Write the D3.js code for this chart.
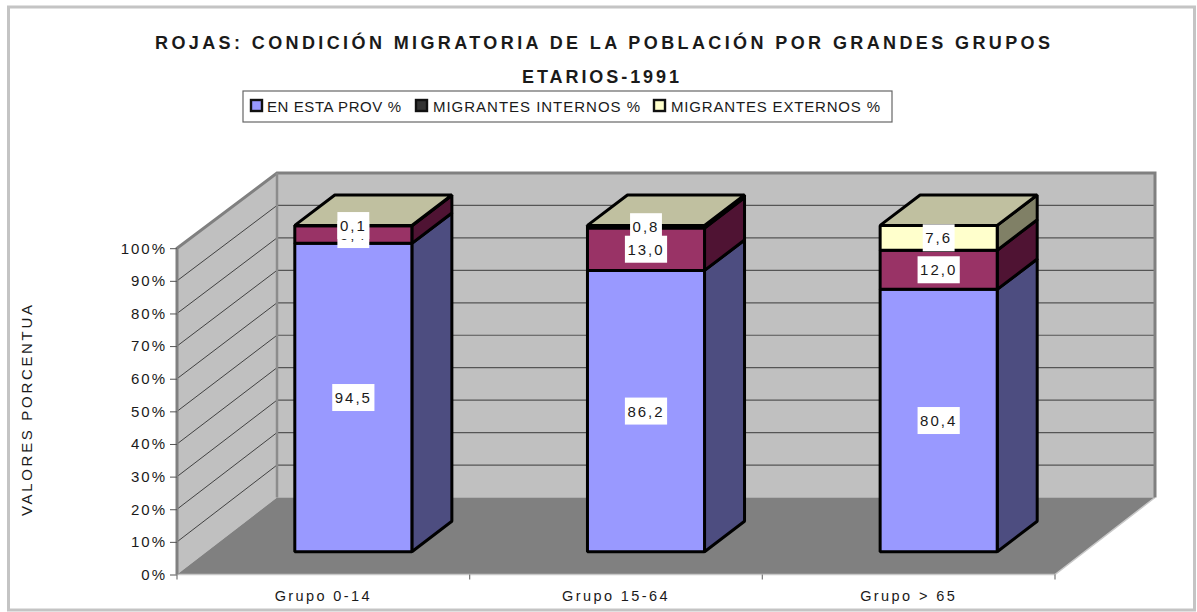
<!DOCTYPE html>
<html><head><meta charset="utf-8">
<script src="https://cdn.jsdelivr.net/npm/d3@7"></script>
<style>html,body{margin:0;padding:0;background:#fff}svg{display:block}text{font-family:"Liberation Sans",Arial,sans-serif;fill:#1a1a1a}</style>
</head><body><svg id="c" width="1197" height="612"></svg>
<script>
const categories = ["Grupo 0-14", "Grupo 15-64", "Grupo > 65"];
const enEstaProv = [94.5, 86.2, 80.4];
const migrantesInternos = [5.4, 13.0, 12.0];
const migrantesExternos = [0.1, 0.8, 7.6];
const seriesNames = ["EN ESTA PROV %", "MIGRANTES INTERNOS %", "MIGRANTES EXTERNOS %"];
const yTicks = [0, 10, 20, 30, 40, 50, 60, 70, 80, 90, 100];
const titleLines = ["ROJAS: CONDICIÓN MIGRATORIA DE LA POBLACIÓN POR GRANDES GRUPOS", "ETARIOS-1991"];
const yTitle = "VALORES PORCENTUA";

const svg = d3.select("#c");
const frontColors = ["#9999ff", "#993366", "#ffffcc"];
const sideColors = ["#4d4d80", "#4f1333", "#808066"];
const topColor = "#c0c0a0";
const legendColors = ["#9999ff", "#333333", "#ffffcc"];
const keys = ["a", "b", "c"];

const X = d3.scaleBand().domain(categories).range([177, 1055]).paddingInner(0.6).paddingOuter(0.3);
const Y = d3.scaleLinear().domain([0, 100]).range([574.5, 248.2]);
const YBack = d3.scaleLinear().domain([0, 100]).range([497.5, 173]);
const dX = d3.scaleLinear().domain([0, 1]).range([0, 100]);
const dY = d3.scaleLinear().domain([0, 1]).range([0, -76]);
const x0 = X.range()[0], x1 = X.range()[1];
const fmt = d3.formatLocale({decimal: ",", thousands: ".", grouping: [3], currency: ["", ""]}).format(".1f");
const poly = pts => pts.map(p => p.join(",")).join(" ");
const pt = (x, v, d) => [x + dX(d), Y(v) + dY(d)];

// outer frame
svg.append("rect").attr("x", 8.5).attr("y", 7).attr("width", 1186).attr("height", 603)
  .attr("fill", "#fff").attr("stroke", "#c4c4c4").attr("stroke-width", 3);

// walls
svg.append("polygon").attr("points", poly([[x0, Y(0)], [x0 + dX(1), YBack(0)], [x0 + dX(1), YBack(100)], [x0, Y(100)]]))
  .attr("fill", "#c0c0c0");
svg.append("rect").attr("x", x0 + dX(1)).attr("y", YBack(100)).attr("width", x1 - x0).attr("height", YBack(0) - YBack(100))
  .attr("fill", "#c0c0c0");
// floor
svg.append("polygon").attr("points", poly([[x0, Y(0)], [x0 + dX(1), YBack(0)], [x1 + dX(1), YBack(0)], [x1, Y(0)]]))
  .attr("fill", "#808080");
svg.append("polyline").attr("points", poly([[x0, Y(0)], [x1, Y(0)], [x1 + dX(1), YBack(0)]]))
  .attr("fill", "none").attr("stroke", "#c8c8c8").attr("stroke-width", 1.5);

// gridlines
const grid = yTicks.filter(t => t > 0 && t < 100);
svg.append("g").selectAll("line.s").data(grid).join("line")
  .attr("x1", x0).attr("y1", d => Y(d)).attr("x2", x0 + dX(1)).attr("y2", d => YBack(d))
  .attr("stroke", "#333").attr("stroke-width", 0.9);
svg.append("g").selectAll("line.b").data(grid).join("line")
  .attr("x1", x0 + dX(1)).attr("y1", d => YBack(d)).attr("x2", x1 + dX(1)).attr("y2", d => YBack(d))
  .attr("stroke", "#555").attr("stroke-width", 1.2);

// wall borders
svg.append("polyline").attr("points", poly([[x0, Y(0)], [x0, Y(100)], [x0 + dX(1), YBack(100)], [x1 + dX(1), YBack(100)], [x1 + dX(1), YBack(0)]]))
  .attr("fill", "none").attr("stroke", "#808080").attr("stroke-width", 3);
svg.append("line").attr("x1", x0 + dX(1)).attr("x2", x0 + dX(1)).attr("y1", YBack(100)).attr("y2", YBack(0))
  .attr("stroke", "#8c8c8c").attr("stroke-width", 2.5);

// y axis ticks + labels
const yAxis = d3.axisLeft(Y).tickValues(yTicks).tickSize(7).tickPadding(5).tickFormat(d => d + "%");
const yg = svg.append("g").attr("transform", `translate(${x0},0)`).call(yAxis);
yg.select(".domain").remove();
yg.selectAll(".tick line").attr("stroke", "#555");
yg.selectAll(".tick text").attr("font-size", 15).attr("letter-spacing", 2).attr("fill", "#1a1a1a")
  .attr("font-family", '"Liberation Sans",Arial,sans-serif').attr("dx", 2);

// x axis ticks + labels
const step = X.step();
const xTickPos = d3.range(categories.length + 1).map(i => x0 + i * step);
svg.append("g").selectAll("line").data(xTickPos).join("line")
  .attr("x1", d => d).attr("x2", d => d).attr("y1", Y(0)).attr("y2", Y(0) + 5).attr("stroke", "#777").attr("stroke-width", 1.2);
svg.append("g").selectAll("text").data(categories).join("text")
  .attr("x", d => X(d) + X.bandwidth() / 2).attr("y", 601).attr("text-anchor", "middle")
  .attr("font-size", 14.5).attr("letter-spacing", 2.4).text(d => d);

// stacked 3D bars
const rows = categories.map((c, i) => ({cat: c, a: enEstaProv[i], b: migrantesInternos[i], c: migrantesExternos[i]}));
const stacked = d3.stack().keys(keys)(rows);
const D0 = 0.3, D1 = 0.7;
const barW = X.bandwidth();
const barStroke = g => g.attr("stroke", "#000").attr("stroke-width", 3).attr("stroke-linejoin", "bevel");
const bars = svg.append("g");
categories.forEach((cat, ci) => {
  const g = bars.append("g");
  const xl = X(cat), xr = xl + barW;
  stacked.forEach((s, si) => {
    const [v0, v1] = s[ci];
    g.append("polygon").attr("points", poly([pt(xr, v0, D0), pt(xr, v0, D1), pt(xr, v1, D1), pt(xr, v1, D0)]))
      .attr("fill", sideColors[si]).call(barStroke);
    g.append("polygon").attr("points", poly([pt(xl, v0, D0), pt(xr, v0, D0), pt(xr, v1, D0), pt(xl, v1, D0)]))
      .attr("fill", frontColors[si]).call(barStroke);
  });
  g.append("polygon").attr("points", poly([pt(xl, 100, D0), pt(xr, 100, D0), pt(xr, 100, D1), pt(xl, 100, D1)]))
    .attr("fill", topColor).call(barStroke);
});

// data labels
const labels = svg.append("g");
categories.forEach((cat, ci) => {
  stacked.forEach((s, si) => {
    const [v0, v1] = s[ci];
    const cx = X(cat) + barW / 2 + dX(D0), cy = Y((v0 + v1) / 2) + dY(D0);
    const g = labels.append("g");
    const bg = g.append("rect").attr("fill", "#fff");
    const t = g.append("text").attr("x", cx).attr("y", cy + 5.5).attr("text-anchor", "middle")
      .attr("font-size", 15).attr("letter-spacing", 2).text(fmt(s[ci].data[keys[si]]));
    const w = t.node().getComputedTextLength() + 5;
    bg.attr("x", cx - w / 2).attr("y", cy - 13.5).attr("width", w).attr("height", 27);
  });
});

// title
const fit = (sel, len) => sel.attr("textLength", len).attr("lengthAdjust", "spacing");
svg.append("text").attr("x", 155).attr("y", 49).attr("font-size", 18).attr("font-weight", "bold").attr("fill", "#000")
  .text(titleLines[0]).call(fit, 895);
svg.append("text").attr("x", 522).attr("y", 83).attr("font-size", 18).attr("font-weight", "bold").attr("fill", "#000")
  .text(titleLines[1]).call(fit, 157);

// legend
svg.append("rect").attr("x", 243).attr("y", 91).attr("width", 649).attr("height", 31)
  .attr("fill", "#fff").attr("stroke", "#666").attr("stroke-width", 1.2);
const legendMarkX = [250, 415, 653], legendTextX = [267, 433, 671], legendTextW = [134, 207, 209];
seriesNames.forEach((n, i) => {
  svg.append("rect").attr("x", legendMarkX[i] + 1).attr("y", 100).attr("width", 11).attr("height", 11)
    .attr("fill", legendColors[i]).attr("stroke", "#111").attr("stroke-width", 2.4);
  svg.append("text").attr("x", legendTextX[i]).attr("y", 112).attr("font-size", 15).text(n).call(fit, legendTextW[i]);
});

// y title
svg.append("text").attr("transform", "translate(32,516) rotate(-90)").attr("font-size", 15).text(yTitle).call(fit, 211);
</script></body></html>
